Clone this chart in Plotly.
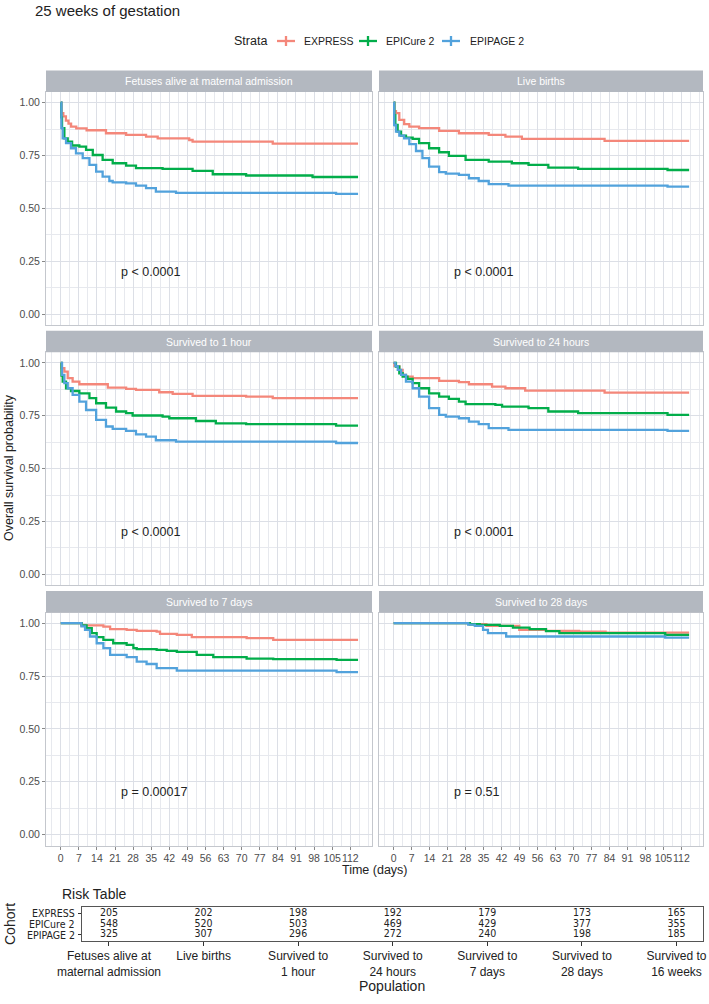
import plotly.graph_objects as go

W, H = 709, 1004

strata = ["EXPRESS", "EPICure 2", "EPIPAGE 2"]
colors = ["#F4877A", "#02AD4A", "#52A2DC"]

panels = ["Fetuses alive at maternal admission", "Live births", "Survived to 1 hour",
          "Survived to 24 hours", "Survived to 7 days", "Survived to 28 days"]
pvals = ["p < 0.0001", "p < 0.0001", "p < 0.0001", "p < 0.0001", "p = 0.00017", "p = 0.51"]
day_ticks = [0, 7, 14, 21, 28, 35, 42, 49, 56, 63, 70, 77, 84, 91, 98, 105, 112]

# Kaplan-Meier step curves, (time in days, survival)
fetus_express = ([0, 0.3, 1, 2, 3, 4, 6, 10, 17.5, 25.3, 33, 37.5, 49.7, 51, 82, 115],
                 [1.0, 0.95, 0.935, 0.915, 0.9, 0.886, 0.878, 0.869, 0.855, 0.847, 0.839, 0.831, 0.823, 0.815, 0.806, 0.806])
fetus_epicure = ([0, 0.2, 0.5, 1.4, 2.7, 4.4, 7.2, 9.8, 12.4, 16.2, 20.1, 25.3, 29.1, 39.4, 51, 58.8, 71.7, 97.4, 115],
                 [1.0, 0.93, 0.879, 0.831, 0.815, 0.797, 0.792, 0.776, 0.752, 0.729, 0.713, 0.702, 0.69, 0.686, 0.677, 0.661, 0.655, 0.648, 0.648])
fetus_epipage = ([0, 0.26, 0.76, 2.05, 3.98, 5.9, 8.5, 11.1, 13.7, 16.2, 18.8, 20.1, 25.3, 29.1, 33, 36.8, 44.6, 106.5, 115],
                 [1.0, 0.879, 0.831, 0.808, 0.784, 0.76, 0.737, 0.705, 0.673, 0.65, 0.629, 0.623, 0.618, 0.607, 0.595, 0.579, 0.573, 0.568, 0.568])

live_express = ([0, 0.3, 0.9, 2.2, 4.1, 6.1, 9.9, 17.7, 25.4, 37, 43.5, 49.9, 82.1, 115],
                [1.0, 0.96, 0.95, 0.918, 0.898, 0.886, 0.879, 0.866, 0.855, 0.847, 0.839, 0.828, 0.819, 0.819])
live_epicure = ([0, 0.27, 0.66, 1.56, 2.85, 4.8, 7.4, 9.9, 13.8, 17.7, 21.5, 28, 37, 46, 52.5, 60.2, 71.8, 106.6, 115],
                [1.0, 0.94, 0.894, 0.863, 0.844, 0.834, 0.828, 0.808, 0.784, 0.765, 0.748, 0.729, 0.721, 0.713, 0.705, 0.692, 0.686, 0.681, 0.681])
live_epipage = ([0, 0.2, 0.92, 2.2, 4.1, 6.1, 8.7, 11.2, 13.8, 17.7, 20.3, 25.4, 29.3, 33.1, 37, 44.7, 106.6, 115],
                [1.0, 0.894, 0.863, 0.844, 0.831, 0.803, 0.771, 0.737, 0.697, 0.671, 0.664, 0.658, 0.642, 0.629, 0.614, 0.607, 0.602, 0.602])

hour1_express = ([0, 0.3, 1.4, 2.7, 4.6, 7.2, 18.2, 25.3, 29.1, 38.1, 43.3, 51, 71.7, 82, 115],
                 [1.0, 0.975, 0.959, 0.928, 0.911, 0.899, 0.883, 0.877, 0.872, 0.861, 0.853, 0.844, 0.84, 0.833, 0.833])
hour1_epicure = ([0, 0.3, 0.76, 2.05, 3.98, 7.2, 11.1, 13.7, 17.5, 21.4, 25.3, 27.8, 39.4, 42, 52.3, 60, 71.7, 106.5, 115],
                 [1.0, 0.94, 0.911, 0.88, 0.867, 0.856, 0.833, 0.809, 0.788, 0.77, 0.762, 0.751, 0.746, 0.738, 0.725, 0.714, 0.71, 0.703, 0.703])
hour1_epipage = ([0, 0.5, 1.4, 2.7, 4.6, 7.2, 9.8, 13.7, 17.5, 20.1, 25.3, 29.1, 33, 36.8, 44.6, 106.5, 115],
                 [1.0, 0.943, 0.904, 0.88, 0.849, 0.817, 0.777, 0.73, 0.699, 0.688, 0.678, 0.662, 0.651, 0.634, 0.628, 0.621, 0.621])

hour24_express = ([0, 0.3, 2.2, 3.5, 4.8, 7.4, 17.7, 25.4, 29.3, 38.3, 43.5, 51.2, 82.1, 115],
                  [1.0, 0.985, 0.967, 0.943, 0.935, 0.928, 0.915, 0.909, 0.899, 0.888, 0.88, 0.869, 0.859, 0.859])
hour24_epicure = ([0, 0.9, 2.2, 3.5, 5.4, 7.4, 9.9, 13.8, 17.7, 21.5, 25.4, 28, 39.6, 42.2, 52.5, 60.2, 71.8, 106.6, 115],
                  [1.0, 0.982, 0.951, 0.935, 0.924, 0.904, 0.88, 0.856, 0.84, 0.83, 0.817, 0.805, 0.801, 0.793, 0.786, 0.77, 0.762, 0.754, 0.754])
hour24_epipage = ([0, 0.7, 1.6, 2.9, 4.8, 7.4, 9.9, 13.8, 17.7, 20.3, 25.4, 29.3, 33.1, 37, 44.7, 106.6, 115],
                  [1.0, 0.985, 0.967, 0.943, 0.911, 0.88, 0.84, 0.786, 0.754, 0.746, 0.738, 0.722, 0.71, 0.691, 0.683, 0.678, 0.678])

day7_express = ([0, 8, 16.5, 19.1, 25.5, 29.4, 37.1, 38.4, 44.9, 50.7, 71.9, 82.2, 115],
                [1.0, 0.99, 0.984, 0.972, 0.968, 0.964, 0.96, 0.949, 0.945, 0.934, 0.929, 0.921, 0.921])
day7_epicure = ([0, 8.1, 10, 12, 13.9, 16.5, 20.3, 25.5, 28.1, 29.4, 37.1, 41, 44.9, 52.6, 59, 71.9, 82.2, 106.7, 115],
                [1.0, 0.99, 0.976, 0.953, 0.934, 0.921, 0.905, 0.897, 0.882, 0.877, 0.874, 0.869, 0.864, 0.85, 0.839, 0.832, 0.83, 0.826, 0.826])
day7_epipage = ([0, 8, 9.4, 11.3, 13.9, 16.5, 19.1, 25.5, 29.4, 33.2, 37.1, 44.9, 106.7, 115],
                [1.0, 0.985, 0.968, 0.937, 0.905, 0.882, 0.85, 0.839, 0.818, 0.807, 0.787, 0.776, 0.768, 0.768])

day28_express = ([0, 29.5, 36.1, 48.9, 59.3, 72.2, 82.5, 115],
                 [1.0, 0.995, 0.987, 0.968, 0.964, 0.96, 0.955, 0.955])
day28_epicure = ([0, 29.7, 33.5, 41.3, 46.4, 52.9, 59.3, 64.5, 105.7, 115],
                 [1.0, 0.995, 0.992, 0.987, 0.979, 0.972, 0.962, 0.953, 0.945, 0.945])
day28_epipage = ([0, 29, 31.6, 34.8, 36.7, 43.8, 105.7, 115],
                 [1.0, 0.993, 0.987, 0.968, 0.953, 0.937, 0.932, 0.932])

curves = [
    [fetus_express, fetus_epicure, fetus_epipage],
    [live_express, live_epicure, live_epipage],
    [hour1_express, hour1_epicure, hour1_epipage],
    [hour24_express, hour24_epicure, hour24_epipage],
    [day7_express, day7_epicure, day7_epipage],
    [day28_express, day28_epicure, day28_epipage],
]

# risk table
populations = ["Fetuses alive at<br>maternal admission", "Live births", "Survived to<br>1 hour",
               "Survived to<br>24 hours", "Survived to<br>7 days", "Survived to<br>28 days",
               "Survived to<br>16 weeks"]
risk_express = [205, 202, 198, 192, 179, 173, 165]
risk_epicure = [548, 520, 503, 469, 429, 377, 355]
risk_epipage = [325, 307, 296, 272, 240, 198, 185]

FONT = "Liberation Sans, Arial, Helvetica, sans-serif"
NARROW = "Liberation Sans Narrow, Arial Narrow, DejaVu Sans Condensed, Liberation Sans, sans-serif"


def px(x):
    return x / W


def py(y):
    return 1 - y / H


cols = [(46, 372), (379, 703)]
row_top = [92, 352.3, 612.6]
row_h = 233
strip_h = 21.5

fig = go.Figure()
shapes = []
annotations = []

for i, name in enumerate(panels):
    r, c = divmod(i, 2)
    n = i + 1
    xa = "x" if n == 1 else f"x{n}"
    ya = "y" if n == 1 else f"y{n}"
    for k, (t, s) in enumerate(curves[i]):
        fig.add_trace(go.Scatter(x=t, y=s, mode="lines", line_shape="hv",
                                 line=dict(color=colors[k], width=2.3),
                                 showlegend=False, xaxis=xa, yaxis=ya))
    x0, x1 = cols[c]
    top = row_top[r]
    bottom = top + row_h
    fig.layout[f"xaxis{n}"] = dict(
        domain=[px(x0), px(x1)], anchor=ya, range=[-5.7, 120.4], automargin=False,
        tickmode="array", tickvals=day_ticks, tickangle=0,
        showgrid=True, gridcolor="#DCDFE6", gridwidth=0.9,
        minor=dict(dtick=3.5, tick0=0, showgrid=True, gridcolor="#E7E9EE", gridwidth=0.6),
        showline=True, mirror=True, linecolor="#C4C7CD", linewidth=1,
        zeroline=False, showticklabels=(r == 2),
        ticks="outside" if r == 2 else "", ticklen=3, tickcolor="#888",
        tickfont=dict(family=FONT, size=10.5, color="#4D4D4D"),
    )
    fig.layout[f"yaxis{n}"] = dict(
        domain=[py(bottom), py(top)], anchor=xa, range=[-0.052, 1.05], automargin=False,
        tick0=0, dtick=0.25, tickformat=".2f", showgrid=True, gridcolor="#DCDFE6", gridwidth=0.9,
        minor=dict(dtick=0.125, tick0=0, showgrid=True, gridcolor="#E7E9EE", gridwidth=0.6),
        showline=True, mirror=True, linecolor="#C4C7CD", linewidth=1,
        zeroline=False, showticklabels=(c == 0),
        ticks="outside" if c == 0 else "", ticklen=3, tickcolor="#888",
        tickfont=dict(family=FONT, size=10.5, color="#4D4D4D"),
    )
    # strip
    shapes.append(dict(type="rect", xref="paper", yref="paper",
                       x0=px(x0), x1=px(x1), y0=py(top), y1=py(top - strip_h),
                       fillcolor="#B3B8C0", line=dict(width=0), layer="above"))
    annotations.append(dict(xref="paper", yref="paper", x=px((x0 + x1) / 2), y=py(top - strip_h / 2),
                            text=name, showarrow=False, xanchor="center", yanchor="middle",
                            font=dict(family=FONT, size=10.5, color="white")))
    annotations.append(dict(xref=xa, yref=ya, x=22.6, y=0.2, text=pvals[i], showarrow=False,
                            xanchor="left", yanchor="middle",
                            font=dict(family=FONT, size=12.5, color="#222")))

# legend, drawn by hand: "Strata" then a short key with a "+" and the name
leg_y = 41
annotations.append(dict(xref="paper", yref="paper", x=px(232), y=py(leg_y), text="Strata",
                        showarrow=False, xanchor="left", yanchor="middle",
                        font=dict(family=FONT, size=12.5, color="#222")))
for key_x, text_x, name, col in zip([286, 368, 451], [302, 384, 468], strata, colors):
    shapes.append(dict(type="line", xref="paper", yref="paper",
                       x0=px(key_x - 9), x1=px(key_x + 9), y0=py(leg_y), y1=py(leg_y),
                       line=dict(color=col, width=2.3)))
    shapes.append(dict(type="line", xref="paper", yref="paper",
                       x0=px(key_x), x1=px(key_x), y0=py(leg_y - 5), y1=py(leg_y + 5),
                       line=dict(color=col, width=2.3)))
    annotations.append(dict(xref="paper", yref="paper", x=px(text_x), y=py(leg_y), text=name,
                            showarrow=False, xanchor="left", yanchor="middle",
                            font=dict(family=FONT, size=10.5, color="#222")))

# risk table
for vals, name in zip([risk_express, risk_epicure, risk_epipage], strata):
    fig.add_trace(go.Scatter(x=populations, y=[name] * len(vals), mode="text",
                             text=[str(v) for v in vals], textposition="middle center",
                             textfont=dict(family=NARROW, size=10.5, color="#222"),
                             showlegend=False, xaxis="x7", yaxis="y7"))
    annotations.append(dict(xref="paper", yref="y7", x=px(77), y=name, text=name,
                            showarrow=False, xanchor="right", yanchor="middle",
                            font=dict(family=NARROW, size=10.5, color="#222")))

fig.layout["xaxis7"] = dict(
    domain=[px(82), px(703)], anchor="y7", type="category", categoryarray=populations,
    range=[-0.285, 6.28], showgrid=False, zeroline=False, automargin=False, tickangle=0,
    showline=True, mirror=True, linecolor="#555", linewidth=1,
    ticks="outside", ticklen=4, tickcolor="#333",
    tickfont=dict(family=FONT, size=12, color="#222"),
)
fig.layout["yaxis7"] = dict(
    domain=[py(941), py(907)], anchor="x7", type="category",
    categoryarray=list(reversed(strata)), range=[-0.6, 2.6],
    showgrid=False, zeroline=False, automargin=False, showticklabels=False,
    showline=True, mirror=True, linecolor="#555", linewidth=1,
    ticks="outside", ticklen=3, tickcolor="#333",
)

# titles
annotations += [
    dict(xref="paper", yref="paper", x=px(33), y=py(11), text="25 weeks of gestation",
         showarrow=False, xanchor="left", yanchor="middle",
         font=dict(family=FONT, size=15, color="#222")),
    dict(xref="paper", yref="paper", x=px(9), y=py(468), text="Overall survival probability",
         showarrow=False, textangle=-90, xanchor="center", yanchor="middle",
         font=dict(family=FONT, size=12.5, color="#222")),
    dict(xref="paper", yref="paper", x=px(375), y=py(870), text="Time (days)",
         showarrow=False, xanchor="center", yanchor="middle",
         font=dict(family=FONT, size=12.5, color="#222")),
    dict(xref="paper", yref="paper", x=px(60), y=py(894), text="Risk Table",
         showarrow=False, xanchor="left", yanchor="middle",
         font=dict(family=FONT, size=14, color="#222")),
    dict(xref="paper", yref="paper", x=px(10), y=py(924), text="Cohort",
         showarrow=False, textangle=-90, xanchor="center", yanchor="middle",
         font=dict(family=FONT, size=14, color="#222")),
    dict(xref="paper", yref="paper", x=px(392), y=py(986), text="Population",
         showarrow=False, xanchor="center", yanchor="middle",
         font=dict(family=FONT, size=14, color="#222")),
]

fig.update_layout(
    width=W, height=H,
    margin=dict(l=0, r=0, t=0, b=0, autoexpand=False),
    paper_bgcolor="white", plot_bgcolor="white",
    font=dict(family=FONT, color="#222"),
    shapes=shapes, annotations=annotations,
    showlegend=False,
)

# drop the default page margin so the figure sits at the window's top-left corner
fig.write_html("out.html", config={"displayModeBar": False},
               post_script="document.body.style.margin='0px';")
